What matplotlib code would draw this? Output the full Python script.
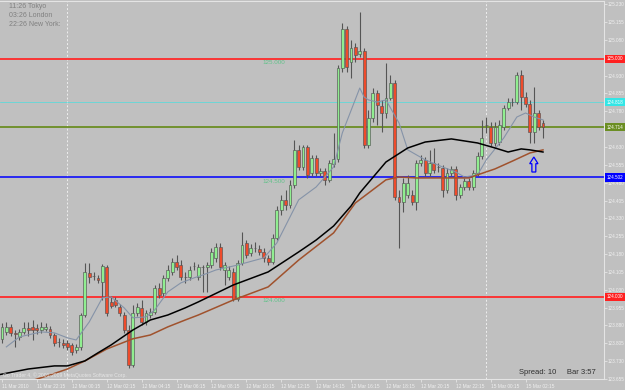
import matplotlib
matplotlib.use('Agg')
import matplotlib.pyplot as plt
import matplotlib.transforms as mtransforms
from matplotlib.patches import Polygon

plt.rcParams['font.family'] = ['Liberation Sans', 'DejaVu Sans']

# 15 min bars, 11 Mar 2010 20:15 .. 15 Mar 03:00
opens = [123.824, 123.853, 123.874, 123.849, 123.832, 123.853, 123.870, 123.874, 123.870, 123.861,
         123.866, 123.866, 123.840, 123.811, 123.807, 123.807, 123.798, 123.777, 123.790, 123.924,
         124.101, 124.088, 124.080, 124.063, 124.126, 123.979, 123.987, 123.958, 123.924, 123.861,
         123.714, 123.933, 123.954, 123.895, 123.924, 123.937, 124.038, 124.017, 124.080, 124.105,
         124.147, 124.134, 124.084, 124.084, 124.130, 124.084, 124.126, 124.126, 124.134, 124.164,
         124.210, 124.113, 124.084, 124.105, 123.992, 124.143, 124.227, 124.185, 124.206, 124.202,
         124.189, 124.164, 124.147, 124.248, 124.366, 124.408, 124.387, 124.471, 124.618, 124.546,
         124.630, 124.521, 124.584, 124.521, 124.529, 124.492, 124.559, 124.580, 124.962, 125.126,
         124.987, 125.050, 125.021, 125.034, 124.639, 124.752, 124.857, 124.803, 124.773, 124.836,
         124.899, 124.420, 124.399, 124.429, 124.429, 124.399, 124.563, 124.576, 124.521, 124.563,
         124.546, 124.542, 124.450, 124.521, 124.538, 124.429, 124.462, 124.487, 124.462, 124.521,
         124.592, 124.723, 124.714, 124.647, 124.651, 124.714, 124.794, 124.819, 124.819, 124.933,
         124.840, 124.811, 124.693, 124.773, 124.731]
highs = [123.891, 123.895, 123.887, 123.861, 123.866, 123.895, 123.895, 123.903, 123.887, 123.895,
         123.891, 123.878, 123.849, 123.828, 123.824, 123.819, 123.807, 123.803, 123.933, 124.143,
         124.143, 124.105, 124.092, 124.139, 124.134, 124.004, 124.000, 123.971, 123.937, 123.882,
         123.966, 123.975, 123.987, 123.945, 123.954, 124.050, 124.059, 124.092, 124.134, 124.164,
         124.176, 124.155, 124.105, 124.130, 124.147, 124.139, 124.134, 124.147, 124.206, 124.227,
         124.227, 124.147, 124.130, 124.122, 124.155, 124.273, 124.239, 124.223, 124.231, 124.218,
         124.206, 124.176, 124.265, 124.382, 124.429, 124.450, 124.492, 124.660, 124.639, 124.639,
         124.639, 124.597, 124.597, 124.542, 124.542, 124.576, 124.689, 124.975, 125.151, 125.139,
         125.080, 125.067, 125.197, 125.046, 124.786, 124.878, 124.870, 124.828, 124.983, 124.933,
         124.912, 124.450, 124.500, 124.513, 124.450, 124.576, 124.597, 124.588, 124.618, 124.626,
         124.563, 124.555, 124.542, 124.550, 124.550, 124.475, 124.500, 124.500, 124.534, 124.609,
         124.744, 124.756, 124.735, 124.735, 124.744, 124.807, 124.836, 124.836, 124.945, 124.954,
         124.861, 124.828, 124.882, 124.786, 124.744]
lows = [123.807, 123.840, 123.836, 123.790, 123.819, 123.845, 123.836, 123.819, 123.845, 123.849,
        123.857, 123.828, 123.794, 123.790, 123.786, 123.777, 123.756, 123.765, 123.777, 123.916,
        124.059, 124.071, 124.059, 123.987, 123.920, 123.954, 123.958, 123.920, 123.849, 123.702,
        123.706, 123.920, 123.882, 123.882, 123.912, 123.929, 123.996, 124.004, 124.067, 124.092,
        124.113, 124.071, 124.059, 124.071, 124.113, 124.071, 124.021, 124.021, 124.122, 124.147,
        124.113, 124.050, 124.071, 123.983, 123.983, 124.134, 124.164, 124.172, 124.189, 124.176,
        124.147, 124.134, 124.139, 124.239, 124.345, 124.366, 124.374, 124.458, 124.534, 124.534,
        124.500, 124.508, 124.508, 124.508, 124.471, 124.483, 124.546, 124.567, 124.945, 124.945,
        124.920, 124.987, 125.008, 124.626, 124.626, 124.735, 124.723, 124.693, 124.752, 124.828,
        124.408, 124.206, 124.357, 124.416, 124.387, 124.366, 124.550, 124.508, 124.508, 124.521,
        124.525, 124.420, 124.437, 124.508, 124.408, 124.416, 124.450, 124.450, 124.450, 124.508,
        124.580, 124.689, 124.634, 124.634, 124.639, 124.702, 124.786, 124.803, 124.811, 124.786,
        124.798, 124.647, 124.647, 124.702, 124.668]
closes = [123.874, 123.874, 123.849, 123.845, 123.853, 123.870, 123.861, 123.861, 123.861, 123.874,
          123.874, 123.840, 123.807, 123.810, 123.798, 123.790, 123.769, 123.790, 123.924, 124.105,
          124.084, 124.087, 124.071, 124.130, 123.933, 123.962, 123.966, 123.933, 123.861, 123.714,
          123.933, 123.958, 123.895, 123.933, 123.937, 124.038, 124.008, 124.080, 124.113, 124.147,
          124.126, 124.084, 124.083, 124.113, 124.129, 124.126, 124.125, 124.134, 124.189, 124.210,
          124.126, 124.134, 124.113, 123.992, 124.143, 124.218, 124.176, 124.206, 124.205, 124.189,
          124.164, 124.147, 124.248, 124.366, 124.408, 124.387, 124.471, 124.618, 124.546, 124.630,
          124.513, 124.584, 124.521, 124.529, 124.492, 124.563, 124.580, 124.962, 125.126, 124.966,
          125.046, 125.017, 125.034, 124.639, 124.752, 124.857, 124.807, 124.773, 124.836, 124.899,
          124.420, 124.399, 124.479, 124.479, 124.399, 124.563, 124.576, 124.521, 124.563, 124.534,
          124.545, 124.450, 124.521, 124.538, 124.429, 124.462, 124.487, 124.462, 124.521, 124.592,
          124.668, 124.722, 124.647, 124.714, 124.723, 124.794, 124.819, 124.818, 124.933, 124.840,
          124.811, 124.693, 124.773, 124.714, 124.714]

# moving average lines, read at a few bars
gray_bars = [1, 4, 9, 12, 15, 17, 20, 23, 25, 28, 30, 33, 35, 38, 41, 44, 46, 49, 54, 60, 63, 68,
             72, 76, 78, 82, 83, 84, 86, 88, 91, 93, 97, 101, 104, 106, 109, 111, 115, 118, 120, 122, 124]
gray_vals = [123.790, 123.832, 123.853, 123.849, 123.828, 123.819, 123.895, 123.996, 124.000, 123.954,
             123.912, 123.916, 123.945, 124.021, 124.059, 124.080, 124.092, 124.113, 124.134, 124.164,
             124.227, 124.408, 124.462, 124.546, 124.689, 124.878, 124.840, 124.828, 124.819, 124.828,
             124.731, 124.618, 124.576, 124.546, 124.525, 124.504, 124.513, 124.576, 124.668, 124.756,
             124.773, 124.756, 124.744]
black_bars = [-1, 6, 12, 15, 19, 22, 25, 30, 34, 38, 42, 45, 53, 61, 68, 72, 76, 80, 82, 88, 93, 97,
              103, 109, 113, 116, 119, 121, 124]
black_vals = [123.672, 123.697, 123.710, 123.710, 123.731, 123.765, 123.798, 123.861, 123.903, 123.924,
              123.954, 123.979, 124.050, 124.105, 124.189, 124.239, 124.298, 124.382, 124.437, 124.567,
              124.626, 124.651, 124.664, 124.647, 124.626, 124.609, 124.622, 124.618, 124.609]
brown_bars = [6, 11, 15, 19, 24, 30, 34, 38, 42, 45, 53, 61, 68, 76, 81, 88, 91, 95, 103, 107, 109,
              113, 117, 121, 124]
brown_vals = [123.643, 123.672, 123.697, 123.731, 123.781, 123.824, 123.840, 123.874, 123.903, 123.924,
              123.987, 124.042, 124.155, 124.269, 124.395, 124.492, 124.504, 124.500, 124.500, 124.500,
              124.513, 124.538, 124.571, 124.605, 124.618]

# horizontal objects
red_levels = [125.000, 124.000]
olive_level = 124.714
blue_level = 124.502
cyan_level = 124.818

price_ticks = [123.655, 123.730, 123.805, 123.880, 123.955, 124.030, 124.105, 124.180, 124.255,
               124.330, 124.405, 124.480, 124.555, 124.630, 124.705, 124.780, 124.855, 124.930,
               125.005, 125.080, 125.155, 125.230]
# ticks whose labels sit under a level box on the scale
hidden_ticks = [124.705, 125.005]
time_ticks = [0, 8, 16, 24, 32, 40, 48, 56, 64, 72, 80, 88, 96, 104, 112, 120]
time_labels = ['11 Mar 2010', '11 Mar 22:15', '12 Mar 00:15', '12 Mar 02:15', '12 Mar 04:15',
               '12 Mar 06:15', '12 Mar 08:15', '12 Mar 10:15', '12 Mar 12:15', '12 Mar 14:15',
               '12 Mar 16:15', '12 Mar 18:15', '12 Mar 20:15', '12 Mar 22:15', '15 Mar 00:15',
               '15 Mar 02:15']
day_breaks = [15, 111]

BG = '#c0c0c0'
AXC = '#e4e4e4'

fig = plt.figure(figsize=(6.25, 3.9), dpi=100, facecolor=BG)
ax = fig.add_axes([0, 11 / 390, 604 / 625, 378 / 390], facecolor=BG)
ax.set_xlim(-0.46, 137.98)
ax.set_ylim(123.6555, 125.2437)

# period separators
for b in day_breaks:
    ax.axvline(b, color='#eeeeee', lw=0.7, ls=(0, (2, 2)), zorder=0.5)

# horizontal lines (behind the candles)
for lev in red_levels:
    ax.axhline(lev, color='#ff2a2a', lw=1.3, zorder=1)
ax.axhline(olive_level, color='#6b8e23', lw=1.3, zorder=1)
ax.axhline(blue_level, color='#0000ff', lw=1.1, zorder=1)
ax.axhline(cyan_level, color='#40e0e0', lw=0.45, zorder=1)

lvl_col = '#62c08a'
ax.text(59.8, 125.000 - 0.006, '125.000', color=lvl_col, fontsize=4.5, va='top', zorder=1.5)
ax.text(59.8, blue_level - 0.006, '124.500', color=lvl_col, fontsize=4.5, va='top', zorder=1.5)
ax.text(59.8, 124.000 - 0.006, '124.000', color=lvl_col, fontsize=4.5, va='top', zorder=1.5)

# candles
idx = list(range(len(opens)))
ax.vlines(idx, lows, highs, color='#555555', lw=0.8, zorder=2)
body_bottom = [min(o, c) for o, c in zip(opens, closes)]
body_h = [abs(c - o) for o, c in zip(opens, closes)]
body_col = ['#90ee90' if c > o else '#ee4b2b' for o, c in zip(opens, closes)]
ax.bar(idx, body_h, bottom=body_bottom, width=0.66, color=body_col,
       edgecolor='#555555', linewidth=0.45, zorder=3)

# indicators on top
ax.plot(gray_bars, gray_vals, color='#8593a8', lw=0.8, zorder=4)
ax.plot(brown_bars, brown_vals, color='#a0522d', lw=1.1, zorder=4)
ax.plot(black_bars, black_vals, color='#000000', lw=1.1, zorder=4)

# hollow blue arrow
arrow_bar, arrow_top, arrow_bottom = 121.9, 124.588, 124.525
head = arrow_top - 0.028
arrow = Polygon([(arrow_bar, arrow_top), (arrow_bar + 0.95, head), (arrow_bar + 0.45, head),
                 (arrow_bar + 0.45, arrow_bottom), (arrow_bar - 0.45, arrow_bottom),
                 (arrow_bar - 0.45, head), (arrow_bar - 0.95, head)],
                closed=True, fill=False, edgecolor='#0000ff', lw=0.9, zorder=5)
ax.add_patch(arrow)

# axes styling
ax.spines['left'].set_visible(False)
for s in ['top', 'right', 'bottom']:
    ax.spines[s].set_color(AXC)
    ax.spines[s].set_linewidth(0.8)
ax.yaxis.tick_right()
ax.set_yticks(price_ticks)
ax.set_yticklabels(['' if p in hidden_ticks else f'{p:.3f}' for p in price_ticks])
ax.tick_params(axis='y', direction='out', length=2, width=0.6, color=AXC,
               labelsize=3.3, labelcolor='#f0f0f0', pad=1.0)
ax.set_xticks(time_ticks)
ax.set_xticklabels(time_labels, ha='left')
ax.tick_params(axis='x', direction='out', length=2, width=0.6, color=AXC,
               labelsize=3.4, labelcolor='#f0f0f0', pad=1.5)

# level boxes on the price scale
trans = mtransforms.blended_transform_factory(ax.transAxes, ax.transData)
boxes = [(125.000, '#ff2020', '125.000'), (cyan_level, '#33e6e6', f'{cyan_level:.3f}'),
         (olive_level, '#6b8e23', f'{olive_level:.3f}'), (blue_level, '#0000ff', f'{blue_level:.3f}'),
         (124.000, '#ff2020', '124.000')]
for lev, col, txt in boxes:
    ax.text(1.004, lev, txt, transform=trans, fontsize=3.3, color='#ffffff', va='center', ha='left',
            clip_on=False, zorder=6,
            bbox=dict(boxstyle='square,pad=0.35', facecolor=col, edgecolor='none'))

# chart texts
fig.text(9 / 625, 1 - 7 / 390, '11:26 Tokyo', fontsize=5, color='#808080', va='center')
fig.text(9 / 625, 1 - 15.5 / 390, '03:26 London', fontsize=5, color='#808080', va='center')
fig.text(9 / 625, 1 - 24 / 390, '22:26 New York:', fontsize=5, color='#808080', va='center')
fig.text(3 / 625, 1 - 375 / 390, 'Go Trader 4, \u00a9 2001-2009 MetaQuotes Software Corp.',
         fontsize=3.6, color='#e6e6e6', va='center')
fig.text(596 / 625, 1 - 373 / 390, 'Spread: 10     Bar 3:57', fontsize=5.5, color='#303030',
         va='center', ha='right')

fig.savefig('out.png', dpi=100, facecolor=BG)
